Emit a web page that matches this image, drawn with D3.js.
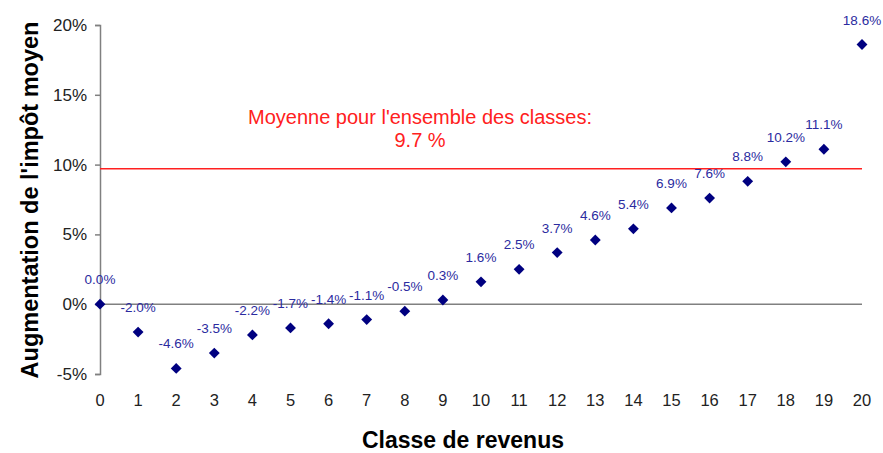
<!DOCTYPE html>
<html>
<head>
<meta charset="utf-8">
<script src="https://cdn.jsdelivr.net/npm/d3@7"></script>
<style>
  body { margin: 0; background: #fff; }
  text { font-family: "Liberation Sans", Arial, sans-serif; }
</style>
</head>
<body>
<div id="vizcont"></div>
<script>
// income classes and average tax increase (%)
var classes = d3.range(0, 21);
var increase = [0.0, -2.0, -4.6, -3.5, -2.2, -1.7, -1.4, -1.1, -0.5, 0.3, 1.6,
                2.5, 3.7, 4.6, 5.4, 6.9, 7.6, 8.8, 10.2, 11.1, 18.6];
var meanValue = 9.7;
var yTicks = [-5, 0, 5, 10, 15, 20];

var W = 883, H = 453;
var margin = {top: 25, right: 21, bottom: 79, left: 100};
var width = W - margin.left - margin.right;
var height = H - margin.top - margin.bottom;

var svg = d3.select("#vizcont").append("svg")
    .attr("width", W).attr("height", H);
var g = svg.append("g")
    .attr("transform", "translate(" + margin.left + "," + margin.top + ")");

var x = d3.scaleLinear().domain([0, 20]).range([0, width]);
var y = d3.scaleLinear().domain([-5, 20]).range([height, 0]);

// y axis
var yAxis = g.append("g")
    .call(d3.axisLeft(y).tickValues(yTicks).tickSize(5).tickPadding(8)
          .tickFormat(function(d) { return d + "%"; }));
yAxis.select(".domain").attr("stroke", "#808080").attr("stroke-width", 1.5);
yAxis.selectAll(".tick line").attr("stroke", "#808080").attr("stroke-width", 1.5);
yAxis.selectAll("text").style("font-size", "17px").attr("fill", "#222");

// zero line
g.append("line")
    .attr("x1", x(0)).attr("x2", x(20))
    .attr("y1", y(0)).attr("y2", y(0))
    .attr("stroke", "#808080").attr("stroke-width", 1.5);

// x tick labels (below the plot)
g.selectAll(".xlab")
    .data(classes)
    .enter().append("text")
    .attr("class", "xlab")
    .attr("x", function(d) { return x(d); })
    .attr("y", height + 32)
    .attr("text-anchor", "middle")
    .style("font-size", "16.5px")
    .attr("fill", "#222")
    .text(function(d) { return d; });

// mean line
g.append("line")
    .attr("x1", x(0)).attr("x2", x(20))
    .attr("y1", y(meanValue)).attr("y2", y(meanValue))
    .attr("stroke", "#ff2020").attr("stroke-width", 1.5);

g.append("text")
    .attr("x", x(8.4)).attr("y", y(meanValue) - 45)
    .attr("text-anchor", "middle")
    .style("font-size", "20px")
    .attr("fill", "#ff2020")
    .text("Moyenne pour l'ensemble des classes:");
g.append("text")
    .attr("x", x(8.4)).attr("y", y(meanValue) - 22)
    .attr("text-anchor", "middle")
    .style("font-size", "20px")
    .attr("fill", "#ff2020")
    .text(meanValue.toFixed(1) + " %");

// diamond markers
var diamond = d3.symbol().type(d3.symbolDiamond2).size(75);
g.selectAll(".pt")
    .data(increase)
    .enter().append("path")
    .attr("class", "pt")
    .attr("d", diamond)
    .attr("transform", function(d, i) {
        return "translate(" + x(classes[i]) + "," + y(d) + ")";
    })
    .attr("fill", "#000080");

// value labels
g.selectAll(".vlab")
    .data(increase)
    .enter().append("text")
    .attr("class", "vlab")
    .attr("x", function(d, i) { return x(classes[i]); })
    .attr("y", function(d) { return y(d) - 20; })
    .attr("text-anchor", "middle")
    .style("font-size", "13.5px")
    .attr("fill", "#2b2ba0")
    .text(function(d) { return d.toFixed(1) + "%"; });

// axis titles
svg.append("text")
    .attr("transform", "translate(38,200) rotate(-90)")
    .attr("text-anchor", "middle")
    .style("font-size", "23.5px")
    .style("font-weight", "bold")
    .attr("fill", "#000")
    .text("Augmentation de l'impôt moyen");

svg.append("text")
    .attr("x", 463).attr("y", 448)
    .attr("text-anchor", "middle")
    .style("font-size", "23px")
    .style("font-weight", "bold")
    .attr("fill", "#000")
    .text("Classe de revenus");
</script>
</body>
</html>
